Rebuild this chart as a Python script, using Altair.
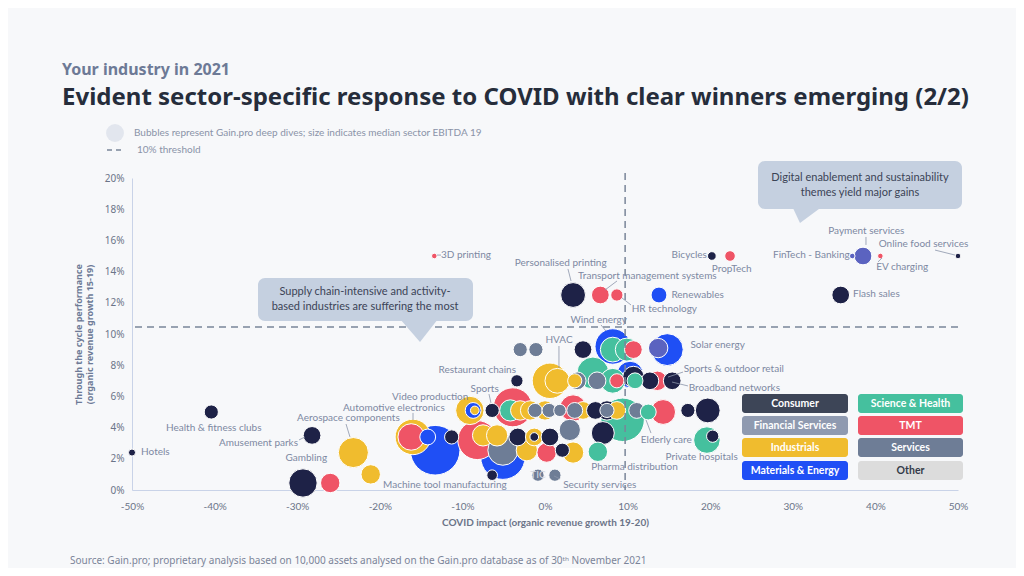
import altair as alt
import pandas as pd

FONT = "Noto Sans"
SFONT = "Lato"

# ---------------- data ----------------
sectors = ["Consumer", "Science & Health", "Financial Services", "TMT",
           "Industrials", "Services", "Materials & Energy", "Other"]
bubble_colors = ["#1e2247", "#45c09e", "#5b63c0", "#ef5466",
                 "#f0bc2e", "#6e7d96", "#1f4ff5", "#d9d9d9"]
legend_colors = ["#3d4557", "#45c09e", "#8f9ab0", "#ef5466",
                 "#f0bc2e", "#6e7d96", "#1f4ff5", "#dcdcdc"]

# COVID impact (%), through-the-cycle growth (%), median EBITDA, sector
bub_x = [-50.0, -40.4, -28.2, -29.3, -26.0, -23.2, -21.1, -13.4, 3.4, 6.7,
         8.7, 13.8, 20.2, 22.4, 37.2, 38.5, 40.6, 50.0, 35.8,
         -3.0, -1.1, 4.6, 8.2, 8.2, 9.9, 10.7, 14.8, 13.7, 10.3,
         -3.4, 0.6, 1.5, 3.9, 3.6, 5.8, 6.3, 8.2, 8.7, 10.7, 10.9, 12.7, 13.6, 15.4,
         -9.1, -8.7, -8.5, -6.4, -3.9, -4.2, -3.0, -1.8, -1.2, 0.0, 0.5, 1.8, 3.4,
         3.6, 4.6, 6.1, 7.5, 7.5, 8.7, 9.4, 11.1, 12.5, 14.3, 17.3, 19.7,
         -16.0, -16.2, -14.2, -13.3, -11.3, -8.2, -7.5, -5.8, -5.1, -5.1, -3.3,
         -1.3, -1.3, 0.6, -2.2, 0.2, 2.1, 3.4, 3.0, 7.0, 6.4, 19.6, 20.3,
         -0.85, 1.2, -6.4]
bub_y = [2.4, 5.0, 3.5, 0.45, 0.45, 2.4, 1.0, 15.0, 12.5, 12.5,
         12.5, 12.5, 15.0, 15.0, 15.0, 15.0, 15.0, 15.0, 12.5,
         9.0, 9.0, 9.0, 9.2, 9.0, 9.0, 9.0, 9.0, 9.1, 7.4,
         7.0, 7.0, 7.0, 7.0, 7.0, 7.5, 7.0, 7.0, 7.0, 7.25, 7.0, 7.0, 7.0, 7.0,
         5.1, 5.1, 5.1, 5.1, 5.3, 5.1, 5.1, 5.1, 5.1, 5.1, 5.1, 5.1, 5.25,
         5.1, 5.1, 5.1, 5.1, 5.1, 5.1, 4.5, 5.1, 5.0, 5.0, 5.1, 5.1,
         3.4, 3.4, 3.4, 2.55, 3.4, 3.2, 3.5, 3.5, 2.1, 2.55, 3.4,
         3.4, 3.4, 3.4, 2.55, 2.4, 2.55, 2.4, 3.85, 3.65, 2.45, 3.2, 3.45,
         0.95, 0.95, 0.95]
bub_ebitda = [4, 16, 25, 64, 30, 72, 30, 2.5, 49, 25,
              12, 20, 6, 9, 2.5, 25, 2.5, 2.5, 25,
              16, 16, 25, 100, 49, 42, 25, 81, 30, 56,
              12, 100, 49, 25, 16, 81, 25, 49, 16, 36, 20, 25, 30, 25,
              64, 20, 6, 16, 121, 36, 30, 30, 16, 30, 16, 12, 56,
              20, 25, 25, 30, 16, 25, 150, 20, 20, 49, 16, 49,
              100, 56, 20, 196, 16, 121, 36, 36, 156, 72, 25,
              25, 6, 25, 36, 30, 16, 36, 36, 42, 30, 56, 12,
              12, 12, 9]
bub_sector = ["Consumer", "Consumer", "Consumer", "Consumer", "TMT", "Industrials", "Industrials", "TMT", "Consumer", "TMT",
              "TMT", "Materials & Energy", "Consumer", "TMT", "Financial Services", "Financial Services", "TMT", "Consumer", "Consumer",
              "Services", "Services", "Consumer", "Materials & Energy", "Science & Health", "Science & Health", "TMT", "Materials & Energy", "Financial Services", "Materials & Energy",
              "Consumer", "Industrials", "Industrials", "Services", "Industrials", "Science & Health", "Services", "Science & Health", "TMT", "Consumer", "Science & Health", "Consumer", "TMT", "Consumer",
              "Industrials", "Materials & Energy", "Industrials", "Consumer", "TMT", "Science & Health", "Industrials", "Industrials", "Services", "Industrials", "Services", "Services", "TMT",
              "Services", "Industrials", "Consumer", "Consumer", "Services", "Industrials", "Science & Health", "Services", "Science & Health", "TMT", "Consumer", "Consumer",
              "Industrials", "TMT", "Materials & Energy", "Materials & Energy", "Consumer", "TMT", "Industrials", "Industrials", "Materials & Energy", "Services", "Consumer",
              "Industrials", "Consumer", "Consumer", "Industrials", "TMT", "Consumer", "Industrials", "Services", "Consumer", "Science & Health", "Science & Health", "Consumer",
              "Services", "Services", "Consumer"]

# labels (text, x, y in data units, alignment)
lab_text = ["Hotels", "Health & fitness clubs", "Amusement parks", "Gambling",
            "Aerospace components", "Automotive electronics", "Video production",
            "Sports", "Restaurant chains", "HVAC", "Wind energy", "Solar energy",
            "Sports & outdoor retail", "Broadband networks", "Elderly care",
            "Private hospitals", "Pharma distribution", "Security services",
            "Machine tool manufacturing", "3D printing", "Personalised printing",
            "Transport management systems", "HR technology", "Renewables",
            "Bicycles", "PropTech", "FinTech - Banking", "Payment services",
            "EV charging", "Online food services", "Flash sales"]
lab_x = [-48.9, -40.1, -29.9, -28.9, -23.8, -18.3, -13.9, -7.3, -8.2, 1.7, 6.5, 17.6,
         16.8, 17.4, 11.6, 14.6, 5.6, 2.2, -19.6, -12.6, 1.9, 4.0, 10.5, 15.3,
         19.6, 22.6, 36.9, 38.9, 40.1, 40.4, 37.3]
lab_y = [2.44, 3.97, 3.01, 2.05, 4.62, 5.26, 5.96, 6.47, 7.69, 9.62, 10.9, 9.29,
         7.76, 6.54, 3.21, 2.12, 1.47, 0.32, 0.32, 15.06, 14.55, 13.72, 11.6, 12.5,
         15.06, 14.15, 15.06, 16.6, 14.3, 15.77, 12.56]
lab_align = ["left", "center", "right", "center", "center", "center", "center",
             "center", "center", "center", "center", "left", "left", "left", "left",
             "left", "left", "left", "left", "left", "center", "left", "left", "left",
             "right", "center", "right", "center", "left", "left", "left"]

# leader lines (data units)
lead_x1 = [-29.78, -24.09, -15.98, -6.78, 1.69, 6.78, 16.71, 17.31, 12.83, 2.78, 8.72, 10.41, 38.86, 40.31, 47.22, 1.82, -13.08]
lead_y1 = [3.21, 4.23, 4.94, 6.15, 9.23, 10.58, 7.56, 6.67, 3.65, 14.17, 13.40, 11.86, 16.22, 14.62, 15.38, 0.71, 15.06]
lead_x2 = [-29.06, -23.61, -15.98, -6.54, 1.69, 7.38, 14.89, 15.38, 12.23, 3.15, 7.26, 9.32, 38.86, 40.80, 49.64, 1.09, -12.59]
lead_y2 = [3.40, 3.40, 4.49, 5.58, 7.82, 10.19, 7.24, 6.92, 4.49, 13.40, 12.82, 12.31, 15.71, 14.87, 15.06, 0.90, 15.06]

threshold_x = [9.7]
threshold_y = [10.45]

x_ticks = [-50, -40, -30, -20, -10, 0, 10, 20, 30, 40, 50]
y_ticks = [0, 2, 4, 6, 8, 10, 12, 14, 16, 18, 20]

# ---------------- chart ----------------
W, H = 826, 312
bubbles = pd.DataFrame({"x": bub_x, "y": bub_y, "ebitda": bub_ebitda, "sector": bub_sector})
labels = pd.DataFrame({"text": lab_text, "x": lab_x, "y": lab_y, "align": lab_align})
leaders = pd.DataFrame({"x": lead_x1, "y": lead_y1, "x2": lead_x2, "y2": lead_y2})

xscale = alt.Scale(domain=[-50, 50], nice=False, zero=False)
yscale = alt.Scale(domain=[0, 20], nice=False, zero=False)

xaxis = alt.Axis(values=x_ticks, labelExpr="datum.value + '%'", title="COVID impact (organic revenue growth 19-20)",
                 grid=False, ticks=False, domainColor="#c9d3e8", labelColor="#6b7488", labelFontSize=10,
                 labelPadding=11, labelFlush=False, labelOverlap=False,
                 titleFontSize=10, titleFontWeight="bold", titleColor="#6b7488",
                 titlePadding=6, labelFont=SFONT, titleFont=SFONT)
yaxis = alt.Axis(values=y_ticks, labelExpr="datum.value + '%'",
                 title=["Through the cycle performance", "(organic revenue growth 15-19)"],
                 grid=False, ticks=False, domainColor="#c9d3e8", labelColor="#6b7488", labelFontSize=10,
                 labelPadding=8, labelFlush=False, labelOverlap=False,
                 titleFontSize=9, titleFontWeight="bold", titleColor="#6d7a96",
                 titlePadding=10, labelFont=FONT, titleFont=FONT)

def X(f):
    return alt.X(f, type="quantitative", scale=xscale, axis=xaxis)

def Y(f):
    return alt.Y(f, type="quantitative", scale=yscale, axis=yaxis)

bub = alt.Chart(bubbles).mark_circle(opacity=1, stroke="white", strokeWidth=1).encode(
    x=X("x"), y=Y("y"),
    size=alt.Size("ebitda:Q", scale=alt.Scale(domain=[0, 200], range=[0, 2513]), legend=None),
    color=alt.Color("sector:N", scale=alt.Scale(domain=sectors, range=bubble_colors), legend=None),
    order=alt.Order("ebitda:Q", sort="descending"),
)

hline = alt.Chart(pd.DataFrame({"y": threshold_y})).mark_rule(
    color="#7a8599", strokeDash=[7, 5], strokeWidth=1.5).encode(y=Y("y"))
vline = alt.Chart(pd.DataFrame({"x": threshold_x})).mark_rule(
    color="#7a8599", strokeDash=[7, 5], strokeWidth=1.5).encode(
    x=X("x"), y=alt.value(-5), y2=alt.value(H))

lead = alt.Chart(leaders).mark_rule(color="#8a94aa", strokeWidth=0.8).encode(
    x=X("x"), y=Y("y"), x2="x2:Q", y2="y2:Q")

label_layers = []
for a in ["left", "center", "right"]:
    label_layers.append(
        alt.Chart(labels).transform_filter(alt.datum.align == a).mark_text(
            align=a, baseline="middle", font=SFONT, fontSize=10, color="#7d88a2").encode(
            x=X("x"), y=Y("y"), text="text:N"))

tic = alt.Chart(pd.DataFrame({"x": [-0.85], "y": [0.96], "t": ["TIC"]})).mark_text(
    align="center", baseline="middle", font=SFONT, fontSize=10, color="#d5dae3").encode(
    x=X("x"), y=Y("y"), text="t:N")

def one():
    return alt.Chart(alt.Data(values=[{}]))

def txt(s, x, y, size=10, color="#8a93a8", weight="normal", align="left", font=SFONT):
    return one().mark_text(text=s, align=align, baseline="middle", font=font, fontSize=size,
                           color=color, fontWeight=weight).encode(x=alt.value(x), y=alt.value(y))

anns = []
# titles
anns.append(txt("Your industry in 2021", -70, -108, size=16, color="#6d7a96", weight="bold", font=FONT))
anns.append(txt("Evident sector-specific response to COVID with clear winners emerging (2/2)", -70, -80,
                size=24, color="#262d3b", weight="bold", font=FONT))
# top legend
anns.append(one().mark_point(filled=True, color="#e2e6ee", opacity=1, size=320, shape="circle").encode(
    x=alt.value(-17), y=alt.value(-45)))
anns.append(txt("Bubbles represent Gain.pro deep dives; size indicates median sector EBITDA  19", 2, -45, size=10))
anns.append(one().mark_rule(color="#7a8599", strokeDash=[5, 4], strokeWidth=1.5).encode(
    x=alt.value(-25), x2=alt.value(-8), y=alt.value(-28)))
anns.append(txt("10% threshold", 5, -28, size=10))

# callouts
CALL = "#c5d0e0"
anns.append(one().mark_rect(color=CALL, cornerRadius=7).encode(
    x=alt.value(126), x2=alt.value(341), y=alt.value(100), y2=alt.value(143)))
anns.append(one().mark_point(filled=True, color=CALL, opacity=1, size=1600,
                             shape="M-1,-0.6 L0.9,-0.6 L0,0.55 Z").encode(x=alt.value(288), y=alt.value(153)))
anns.append(txt("Supply chain-intensive  and activity-", 233, 114, size=11, color="#3b4356", align="center"))
anns.append(txt("based industries are suffering the most", 233, 129, size=11, color="#3b4356", align="center"))

anns.append(one().mark_rect(color=CALL, cornerRadius=7).encode(
    x=alt.value(626), x2=alt.value(830), y=alt.value(-17), y2=alt.value(31)))
anns.append(one().mark_point(filled=True, color=CALL, opacity=1, size=1600,
                             shape="M-0.8,-0.5 L0.75,-0.5 L-0.4,0.35 Z").encode(x=alt.value(676), y=alt.value(38)))
anns.append(txt("Digital enablement and sustainability", 728, 0, size=11, color="#3b4356", align="center"))
anns.append(txt("themes yield major gains", 728, 15, size=11, color="#3b4356", align="center"))

# sector legend boxes
col_x = [(610, 716), (726, 831)]
row_y = [(216, 235), (238, 257), (260, 279), (283, 302)]
for i, s in enumerate(sectors):
    cx0, cx1 = col_x[i % 2]
    ry0, ry1 = row_y[i // 2]
    anns.append(one().mark_rect(color=legend_colors[i], cornerRadius=3).encode(
        x=alt.value(cx0), x2=alt.value(cx1), y=alt.value(ry0), y2=alt.value(ry1)))
    anns.append(txt(s, (cx0 + cx1) / 2, (ry0 + ry1) / 2 + 0.5, size=10.5,
                    color="#333a48" if s == "Other" else "white", weight="bold", align="center"))

# source
anns.append(txt("Source: Gain.pro; proprietary analysis based on 10,000 assets analysed on the Gain.pro database as of 30ᵗʰ November 2021",
                -62, 383, size=10, color="#7b8499", font=FONT))

chart = alt.layer(bub, hline, vline, lead, *label_layers, tic, *anns).properties(
    width=W, height=H,
    autosize=alt.AutoSizeParams(type="none"),
    padding={"left": 124, "top": 170, "right": 58, "bottom": 78},
    background="#f7f8fa",
).configure_view(stroke=None).configure_axis(labelOverlap=False)

chart.save("out.html", embed_options={"renderer": "svg", "actions": False})
